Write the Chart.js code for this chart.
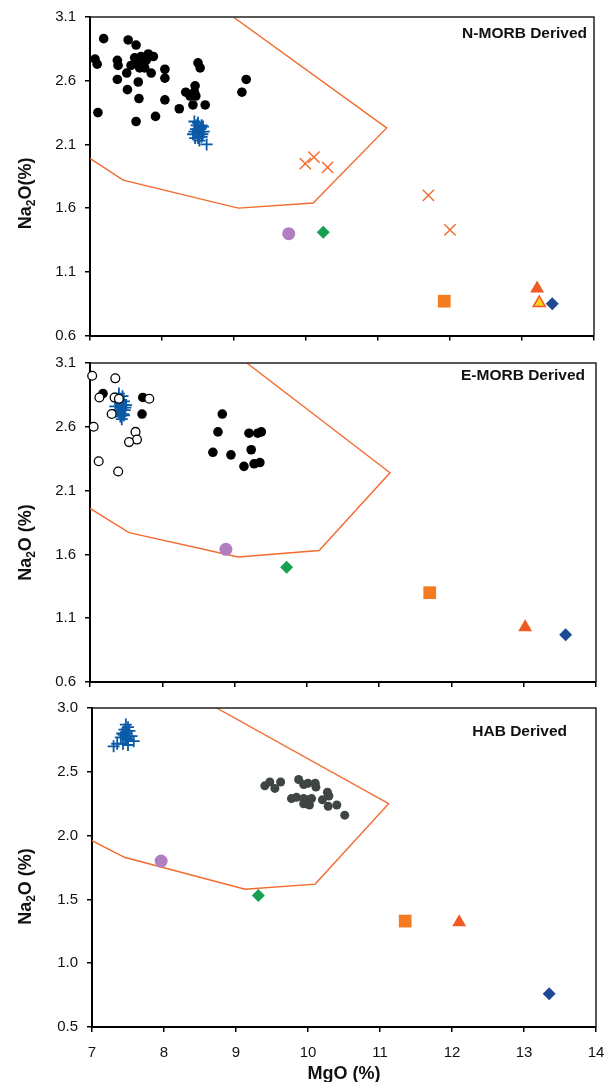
<!DOCTYPE html>
<html>
<head>
<meta charset="utf-8">
<script src="https://cdn.jsdelivr.net/npm/chart.js@4.4.1/dist/chart.umd.min.js"></script>
<style>
  body { margin: 0; background: #fff; }
  #wrap { position: relative; width: 612px; height: 1082px; }
  .panel { position: absolute; left: 0; width: 612px; }
</style>
</head>
<body>
<div id="wrap">
  <div class="panel" style="top:0;height:345px"><canvas id="chart1"></canvas></div>
  <div class="panel" style="top:346px;height:345px"><canvas id="chart2"></canvas></div>
  <div class="panel" style="top:691px;height:391px"><canvas id="chart3"></canvas></div>
</div>
<script>
// AXIS TICKS AND PANEL NAMES
const mgoTicks = [7, 8, 9, 10, 11, 12, 13, 14];
const na2oTicksMorb = [0.6, 1.1, 1.6, 2.1, 2.6, 3.1];
const na2oTicksHab = [0.5, 1.0, 1.5, 2.0, 2.5, 3.0];
const panelNames = ['N-MORB Derived', 'E-MORB Derived', 'HAB Derived'];

// N-MORB PANEL DATA
const nDotsX = [7.19, 7.53, 7.64, 7.07, 7.10, 7.38, 7.39, 7.62, 7.71, 7.81, 7.88, 7.57, 7.67, 7.74, 7.78, 7.69, 7.76, 7.51, 7.85, 8.04, 8.04, 8.50, 8.53, 7.38, 7.67, 7.52, 7.68, 8.04, 8.33, 8.46, 8.45, 8.39, 8.43, 8.47, 8.60, 8.24, 7.11, 7.91, 7.64, 9.17, 9.11];
const nDotsY = [2.93, 2.92, 2.88, 2.77, 2.73, 2.76, 2.72, 2.78, 2.79, 2.81, 2.79, 2.72, 2.74, 2.72, 2.76, 2.70, 2.70, 2.66, 2.66, 2.69, 2.62, 2.74, 2.70, 2.61, 2.59, 2.53, 2.46, 2.45, 2.51, 2.56, 2.51, 2.48, 2.41, 2.48, 2.41, 2.38, 2.35, 2.32, 2.28, 2.61, 2.51];
const nCrossX = [8.45, 8.50, 8.55, 8.47, 8.53, 8.58, 8.43, 8.50, 8.55, 8.46, 8.52, 8.62, 8.57, 8.49, 8.48, 8.52, 8.45, 8.54, 8.50, 8.56];
const nCrossY = [2.28, 2.27, 2.25, 2.22, 2.22, 2.20, 2.18, 2.18, 2.16, 2.15, 2.13, 2.10, 2.24, 2.20, 2.25, 2.19, 2.20, 2.23, 2.15, 2.18];
const nXmarkX = [9.99, 10.11, 10.30, 11.70, 12.00];
const nXmarkY = [1.95, 2.00, 1.92, 1.70, 1.43];
const nPurple = [9.76, 1.40];
const nGreen = [10.24, 1.41];
const nSquare = [11.92, 0.87];
const nTriangle = [13.21, 0.97];
const nYellowTri = [13.24, 0.855];
const nBlueDiamond = [13.42, 0.85];
const nFieldX = [7.0, 7.46, 9.06, 10.10, 11.12, 8.99];
const nFieldY = [1.99, 1.82, 1.60, 1.64, 2.23, 3.1];

// E-MORB PANEL DATA
const eOpenX = [7.03, 7.35, 7.13, 7.34, 7.40, 7.82, 7.30, 7.05, 7.63, 7.65, 7.54, 7.12, 7.39];
const eOpenY = [3.00, 2.98, 2.83, 2.83, 2.82, 2.82, 2.70, 2.60, 2.56, 2.50, 2.48, 2.33, 2.25];
const eDotsX = [7.18, 7.73, 7.72, 8.83, 8.77, 8.70, 8.95, 9.20, 9.32, 9.37, 9.23, 9.13, 9.27, 9.35];
const eDotsY = [2.86, 2.83, 2.70, 2.70, 2.56, 2.40, 2.38, 2.55, 2.55, 2.56, 2.42, 2.29, 2.31, 2.32];
const eCrossX = [7.40, 7.45, 7.38, 7.47, 7.42, 7.50, 7.35, 7.44, 7.48, 7.40, 7.46, 7.42, 7.44, 7.47, 7.36, 7.43, 7.49, 7.38, 7.45, 7.41];
const eCrossY = [2.86, 2.84, 2.80, 2.80, 2.78, 2.77, 2.76, 2.75, 2.73, 2.72, 2.70, 2.68, 2.66, 2.69, 2.82, 2.81, 2.75, 2.73, 2.77, 2.70];
const ePurple = [8.88, 1.64];
const eGreen = [9.72, 1.50];
const eSquare = [11.70, 1.30];
const eTriangle = [13.02, 1.03];
const eBlueDiamond = [13.58, 0.97];
const eFieldX = [7.0, 7.54, 9.05, 10.17, 11.15, 9.17];
const eFieldY = [1.96, 1.77, 1.58, 1.63, 2.24, 3.1];

// HAB PANEL DATA
const hCrossX = [7.47, 7.50, 7.45, 7.52, 7.42, 7.48, 7.55, 7.40, 7.46, 7.50, 7.58, 7.35, 7.43, 7.50, 7.30, 7.48, 7.44];
const hCrossY = [2.87, 2.85, 2.83, 2.82, 2.80, 2.80, 2.78, 2.77, 2.77, 2.75, 2.74, 2.72, 2.72, 2.71, 2.70, 2.76, 2.79];
const hDotsX = [9.40, 9.47, 9.54, 9.62, 9.87, 9.94, 10.00, 10.10, 10.11, 9.77, 9.84, 9.94, 10.00, 9.94, 10.02, 10.05, 10.27, 10.29, 10.20, 10.28, 10.40, 10.51];
const hDotsY = [2.39, 2.42, 2.37, 2.42, 2.44, 2.40, 2.41, 2.41, 2.38, 2.29, 2.30, 2.29, 2.28, 2.25, 2.24, 2.29, 2.34, 2.31, 2.28, 2.23, 2.24, 2.16];
const hPurple = [7.96, 1.80];
const hGreen = [9.31, 1.53];
const hSquare = [11.35, 1.33];
const hTriangle = [12.10, 1.32];
const hBlueDiamond = [13.35, 0.76];
const hFieldX = [7.0, 7.45, 9.125, 10.10, 11.12, 8.73];
const hFieldY = [1.96, 1.83, 1.58, 1.62, 2.25, 3.0];

const FONT = "'Liberation Sans', Arial, sans-serif";
const ORANGE_LINE = '#f26a2e';

function pts(xs, ys) {
  return xs.map((x, i) => ({ x: x, y: ys[i] }));
}
function one(p) {
  return [{ x: p[0], y: p[1] }];
}

// marker styles
function dots(data, color, r) {
  return { data: data, pointStyle: 'circle', pointRadius: r, backgroundColor: color, borderColor: color, borderWidth: 0, clip: false };
}
function openDots(data) {
  return { data: data, pointStyle: 'circle', pointRadius: 4.4, backgroundColor: '#fff', borderColor: '#000', borderWidth: 1.3, clip: false };
}
function crosses(data) {
  return { data: data, pointStyle: 'cross', pointRadius: 6, borderColor: '#0b5aa8', backgroundColor: '#0b5aa8', borderWidth: 1.8, clip: false };
}
function xmarks(data) {
  return { data: data, pointStyle: 'crossRot', pointRadius: 8, borderColor: ORANGE_LINE, backgroundColor: ORANGE_LINE, borderWidth: 1.4, clip: false };
}
function marker(data, style, r, fill, border, bw) {
  return { data: data, pointStyle: style, pointRadius: r, backgroundColor: fill, borderColor: border || fill, borderWidth: bw || 0, clip: false };
}
function field(xs, ys) {
  return { data: pts(xs, ys), showLine: true, pointRadius: 0, borderColor: ORANGE_LINE, borderWidth: 1.4, fill: false };
}

// FRAME, PANEL LABEL AND AXIS TITLES
const decoPlugin = {
  id: 'deco',
  afterDraw(chart, args, o) {
    const ctx = chart.ctx;
    const a = chart.chartArea;
    ctx.save();
    // frame
    ctx.strokeStyle = '#222';
    ctx.lineWidth = 1.5;
    ctx.beginPath();
    ctx.moveTo(a.left, a.top);
    ctx.lineTo(a.right, a.top);
    ctx.lineTo(a.right, a.bottom);
    ctx.stroke();
    // panel label
    ctx.fillStyle = '#111';
    ctx.font = 'bold 15.5px ' + FONT;
    ctx.textAlign = 'right';
    ctx.textBaseline = 'middle';
    ctx.fillText(o.label, a.right - o.labelDx, a.top + o.labelDy);
    // y title with subscript
    const parts = o.yTitle;
    ctx.font = 'bold 18px ' + FONT;
    const w1 = ctx.measureText(parts[0]).width;
    const w3 = ctx.measureText(parts[2]).width;
    ctx.font = 'bold 12px ' + FONT;
    const w2 = ctx.measureText(parts[1]).width;
    const total = w1 + w2 + w3;
    ctx.translate(o.yTitleX, (a.top + a.bottom) / 2 + o.yTitleDy);
    ctx.rotate(-Math.PI / 2);
    ctx.textAlign = 'left';
    ctx.textBaseline = 'alphabetic';
    let cx = -total / 2;
    ctx.font = 'bold 18px ' + FONT;
    ctx.fillText(parts[0], cx, 6);
    cx += w1;
    ctx.font = 'bold 12px ' + FONT;
    ctx.fillText(parts[1], cx, 10);
    cx += w2;
    ctx.font = 'bold 18px ' + FONT;
    ctx.fillText(parts[2], cx, 6);
    ctx.restore();
    if (o.xTitle) {
      ctx.save();
      ctx.fillStyle = '#111';
      ctx.font = 'bold 18px ' + FONT;
      ctx.textAlign = 'center';
      ctx.textBaseline = 'middle';
      ctx.fillText(o.xTitle, (a.left + a.right) / 2, a.bottom + 47);
      ctx.restore();
    }
  }
};

function makeChart(id, datasets, yTicks, cfg) {
  const ctx = document.getElementById(id).getContext('2d');
  return new Chart(ctx, {
    type: 'scatter',
    data: { datasets: datasets },
    options: {
      responsive: true,
      maintainAspectRatio: false,
      animation: false,
      layout: { padding: { top: 17, right: cfg.padRight, left: 0, bottom: 0 } },
      plugins: {
        legend: { display: false },
        tooltip: { enabled: false },
        deco: cfg.deco
      },
      scales: {
        x: {
          type: 'linear',
          min: mgoTicks[0],
          max: mgoTicks[mgoTicks.length - 1],
          afterBuildTicks: s => { s.ticks = mgoTicks.map(v => ({ value: v })); },
          afterFit: s => {
            s.height = cfg.xHeight;
            s.paddingLeft = 0;
            s.paddingRight = 0;
          },
          grid: { drawOnChartArea: false, drawTicks: true, tickLength: 5, color: '#000', lineWidth: 1.5 },
          border: { color: '#000', width: 2 },
          ticks: {
            display: cfg.xLabels,
            padding: 12,
            color: '#111',
            font: { family: FONT, size: 15 },
            maxRotation: 0,
            callback: v => String(v)
          }
        },
        y: {
          type: 'linear',
          min: yTicks[0],
          max: yTicks[yTicks.length - 1],
          afterBuildTicks: s => { s.ticks = yTicks.map(v => ({ value: v })); },
          afterFit: s => {
            s.width = cfg.yWidth;
            s.paddingTop = 0;
            s.paddingBottom = 0;
          },
          grid: { drawOnChartArea: false, drawTicks: true, tickLength: 5, color: '#000', lineWidth: 1.5 },
          border: { color: '#000', width: 2 },
          ticks: {
            padding: 9,
            color: '#111',
            font: { family: FONT, size: 15 },
            callback: v => v.toFixed(1)
          }
        }
      }
    },
    plugins: [decoPlugin]
  });
}

// N-MORB DERIVED
makeChart('chart1', [
  crosses(pts(nCrossX, nCrossY)),
  dots(pts(nDotsX, nDotsY), '#000', 4.8),
  xmarks(pts(nXmarkX, nXmarkY)),
  dots(one(nPurple), '#b17fc1', 6.5),
  marker(one(nGreen), 'rectRot', 6.5, '#17a050'),
  marker(one(nSquare), 'rect', 9, '#f47b20'),
  marker(one(nYellowTri), 'triangle', 7, '#ffd21a', '#f15a24', 1.5),
  marker(one(nTriangle), 'triangle', 8, '#f15a24'),
  marker(one(nBlueDiamond), 'rectRot', 6.5, '#1d4a92'),
  field(nFieldX, nFieldY)
], na2oTicksMorb, {
  padRight: 18, xHeight: 9, yWidth: 90, xLabels: false,
  deco: { label: panelNames[0], labelDx: 7, labelDy: 17, yTitle: ['Na', '2', 'O(%)'], yTitleX: 25, yTitleDy: 17 }
});

// E-MORB DERIVED
makeChart('chart2', [
  openDots(pts(eOpenX, eOpenY)),
  crosses(pts(eCrossX, eCrossY)),
  dots(pts(eDotsX, eDotsY), '#000', 4.8),
  dots(one(ePurple), '#b17fc1', 6.5),
  marker(one(eGreen), 'rectRot', 6.5, '#17a050'),
  marker(one(eSquare), 'rect', 9, '#f47b20'),
  marker(one(eTriangle), 'triangle', 8, '#f15a24'),
  marker(one(eBlueDiamond), 'rectRot', 6.5, '#1d4a92'),
  field(eFieldX, eFieldY)
], na2oTicksMorb, {
  padRight: 16, xHeight: 9, yWidth: 90, xLabels: false,
  deco: { label: panelNames[1], labelDx: 11, labelDy: 13, yTitle: ['Na', '2', 'O (%)'], yTitleX: 25, yTitleDy: 20 }
});

// HAB DERIVED
makeChart('chart3', [
  crosses(pts(hCrossX, hCrossY)),
  dots(pts(hDotsX, hDotsY), '#3f4444', 4.5),
  dots(one(hPurple), '#b17fc1', 6.5),
  marker(one(hGreen), 'rectRot', 6.5, '#17a050'),
  marker(one(hSquare), 'rect', 9, '#f47b20'),
  marker(one(hTriangle), 'triangle', 8, '#f15a24'),
  marker(one(hBlueDiamond), 'rectRot', 6.5, '#1d4a92'),
  field(hFieldX, hFieldY)
], na2oTicksHab, {
  padRight: 16, xHeight: 55, yWidth: 92, xLabels: true,
  deco: { label: panelNames[2], labelDx: 29, labelDy: 24, yTitle: ['Na', '2', 'O (%)'], yTitleX: 25, yTitleDy: 19, xTitle: 'MgO (%)' }
});
</script>
</body>
</html>
